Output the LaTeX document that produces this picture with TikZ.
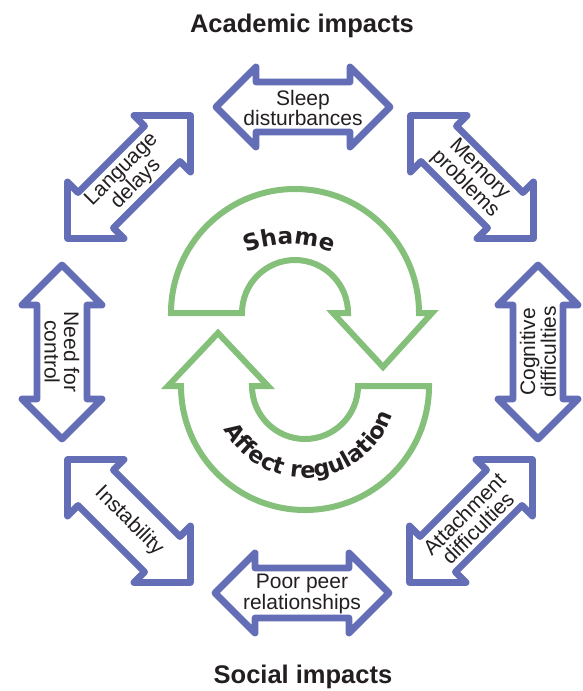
\documentclass[tikz,border=0pt]{standalone}
\usepackage{fontspec}
\setmainfont{Liberation Sans}
\newfontfamily\heavyfamily{DejaVu Sans}
\usetikzlibrary{decorations.text}
\definecolor{ablue}{RGB}{100,110,182}
\definecolor{agreen}{RGB}{132,192,122}
\definecolor{txt}{RGB}{35,31,32}
\newcommand\heavyfont{\heavyfamily\bfseries\fontsize{22.5}{22.5}\selectfont}
\newcommand\shamefont{\heavyfamily\bfseries\fontsize{23}{23}\selectfont}
\newcommand\blarrow[3]{\draw[barrow,shift={(#1,#2)},rotate=#3] (-87,0) -- (-47,40) -- (-47,25) -- (47,25) -- (47,40) -- (87,0) -- (47,-40) -- (47,-25) -- (-47,-25) -- (-47,-40) -- cycle;}
\tikzset{
  barrow/.style={draw=ablue, line width=6.8pt, line join=round, fill=white},
  garrow/.style={draw=agreen, line width=6pt, line join=miter, fill=white},
  lbl/.style={font=\fontsize{21}{19.5}\selectfont, align=center, text=txt, inner sep=0pt},
  ttl/.style={font=\fontsize{25.5}{28}\selectfont\bfseries, text=txt, inner sep=0pt, anchor=base},
}
\begin{document}
\begin{tikzpicture}[x=1pt,y=1pt]
\useasboundingbox[fill=white] (0,0) rectangle (582,-691);

% titles
\node[ttl] (academic) at (302,-32) {Academic impacts};
\node[ttl] (social) at (303,-683) {Social impacts};

% green cycle arrows
\draw[garrow] (242,-313) -- (171,-313) arc[start angle=180, end angle=0, radius=124]
  -- (432,-313) -- (383,-367) -- (333,-313) -- (348,-313)
  arc[start angle=0, end angle=180, radius=53] -- cycle;
\draw[garrow] (358,-386) -- (429,-386) arc[start angle=0, end angle=-180, radius=124]
  -- (168,-386) -- (218,-333) -- (268,-386) -- (252,-386)
  arc[start angle=180, end angle=360, radius=53] -- cycle;

\path[decorate, decoration={text along path, text align=center, text color=txt,
  text={|\shamefont|Shame}}]
  (289,-354) ++(120:110) arc[start angle=120, end angle=60, radius=110];
\path[decorate, decoration={text along path, text align=center, text color=txt,
  text={|\heavyfont|Affect regulation}}]
  (305,-386) ++(192:92) arc[start angle=192, end angle=358, radius=92];

% blue double arrows
\blarrow{303}{-107}{0}
\blarrow{472}{-177}{-45}
\blarrow{538}{-352}{90}
\blarrow{471}{-521}{45}
\blarrow{302}{-593}{0}
\blarrow{129}{-521}{-45}
\blarrow{62}{-352}{90}
\blarrow{129}{-177}{45}

\node[lbl] (sleep) at (303,-108) {Sleep\\disturbances};
\node[lbl, rotate=-45] (memory) at (472,-177) {Memory\\problems};
\node[lbl, rotate=90] (cognitive) at (538,-352) {Cognitive\\difficulties};
\node[lbl, rotate=45] (attach) at (471,-521) {Attachment\\difficulties};
\node[lbl] (peer) at (302,-594) {Poor peer\\relationships};
\node[lbl, rotate=-45] (instab) at (129,-521) {Instability};
\node[lbl, rotate=-90] (control) at (62,-352) {Need for\\control};
\node[lbl, rotate=45] (lang) at (129,-177) {Language\\delays};
\end{tikzpicture}
\end{document}
